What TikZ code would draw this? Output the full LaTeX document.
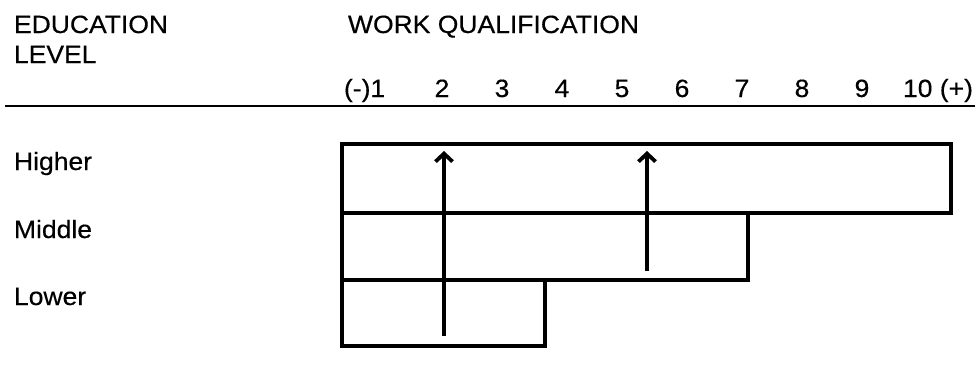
\documentclass[tikz,border=0pt]{standalone}
\usepackage{fontspec}
\setmainfont{Liberation Sans}[FakeStretch=1.06,FakeBold=0.4]
\usetikzlibrary{arrows.meta}
\begin{document}
\begin{tikzpicture}[x=1pt,y=-1pt,
  lbl/.style={anchor=base west,inner sep=0pt,outer sep=0pt,font=\fontsize{25}{30}\selectfont},
  num/.style={anchor=base,inner sep=0pt,outer sep=0pt,font=\fontsize{25}{30}\selectfont},
  bar/.style={draw=black,line width=4.2pt,inner sep=0pt,outer sep=0pt,rectangle},
  uparrow/.style={line width=3.8pt,-{Straight Barb[length=8pt,width=17pt,line width=3.8pt]}},
  rule/.style={line width=1.8pt}]
\useasboundingbox (0,0) rectangle (975,380);
% headings
\node[lbl] (edu) at (14,33) {EDUCATION};
\node[lbl] (lev) at (14,63) {LEVEL};
\node[lbl] (wq) at (348,33) {WORK QUALIFICATION};
% scale
\node[lbl] (n1) at (344,97) {(-)1};
\node[num] (n2) at (442,97) {2};
\node[num] (n3) at (502,97) {3};
\node[num] (n4) at (562,97) {4};
\node[num] (n5) at (622,97) {5};
\node[num] (n6) at (682,97) {6};
\node[num] (n7) at (742,97) {7};
\node[num] (n8) at (802,97) {8};
\node[num] (n9) at (862,97) {9};
\node[lbl] (n10) at (903,97) {10 (+)};
% rule
\coordinate (rl) at (5,106);
\coordinate (rr) at (975,106);
\draw[rule] (rl) -- (rr);
% row labels
\node[lbl] (hi) at (14,170) {Higher};
\node[lbl] (mi) at (14,238) {Middle};
\node[lbl] (lo) at (14,305) {Lower};
% bars
\node[bar,minimum width=609pt,minimum height=69pt] (bhi) at (646.5,178.5) {};
\node[bar,minimum width=406pt,minimum height=67pt] (bmi) at (545,246.5) {};
\node[bar,minimum width=203pt,minimum height=66pt] (blo) at (443.5,313) {};
% arrows
\coordinate (a1s) at (444,336);
\coordinate (a1e) at (444,151);
\coordinate (a2s) at (647,271);
\coordinate (a2e) at (647,151);
\draw[uparrow] (a1s) -- (a1e);
\draw[uparrow] (a2s) -- (a2e);
\end{tikzpicture}
\end{document}
